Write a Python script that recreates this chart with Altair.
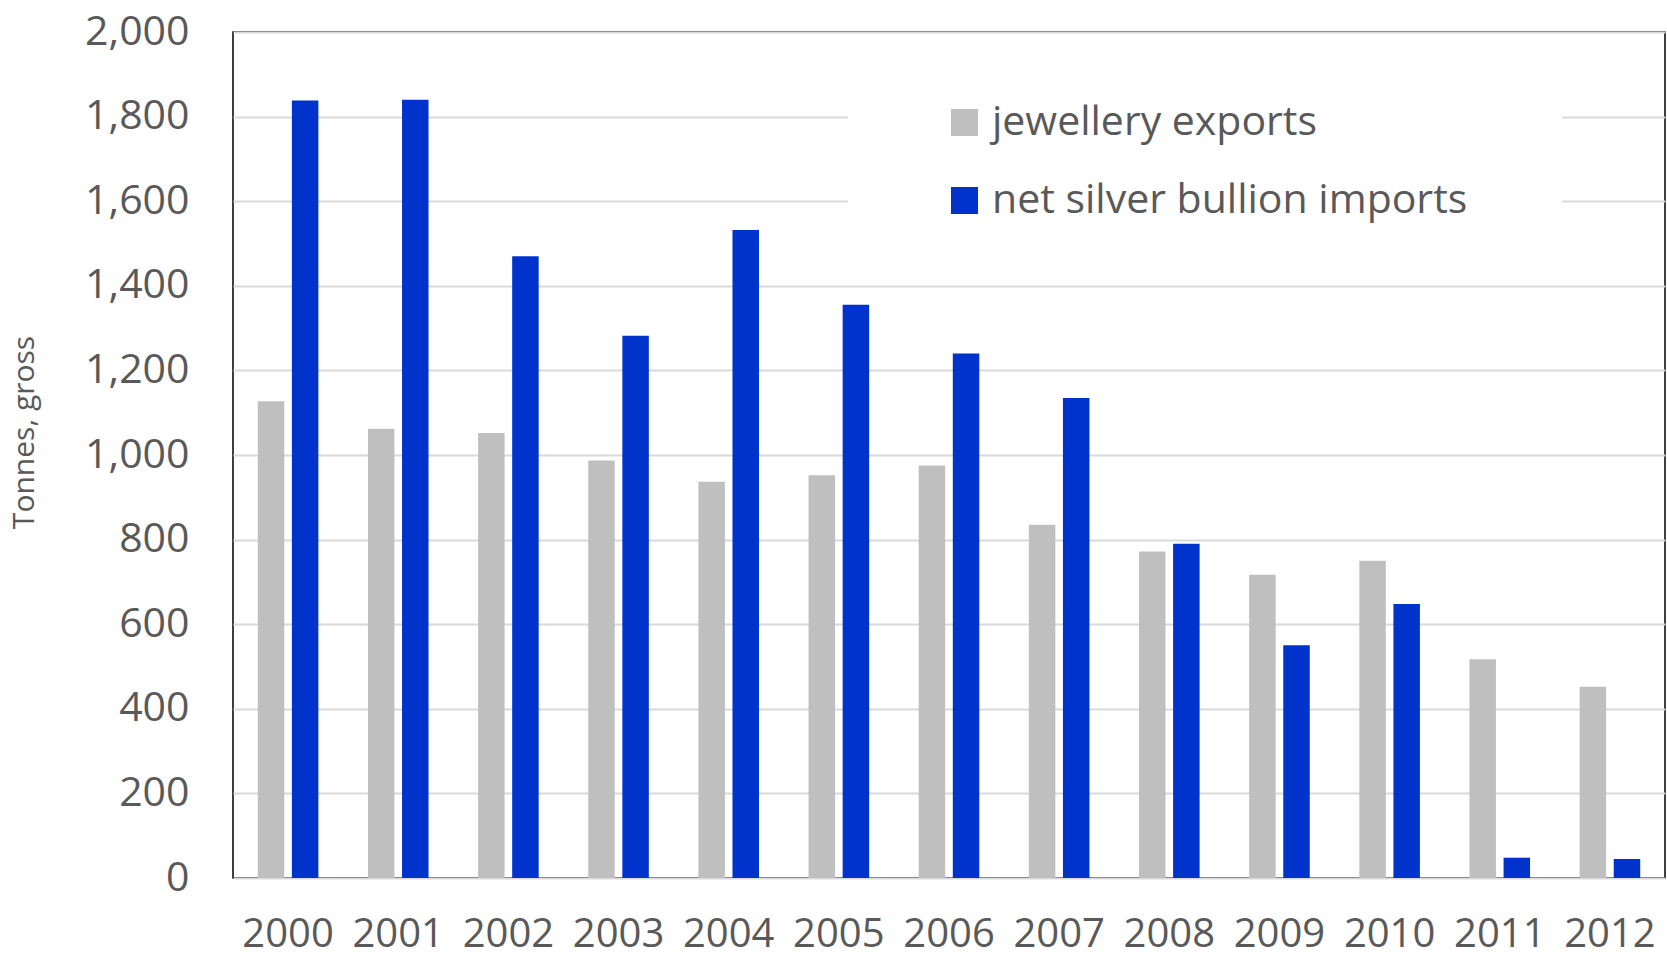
import altair as alt
import pandas as pd

years = [str(y) for y in range(2000, 2013)]
jewellery_exports = [1127, 1062, 1052, 987, 937, 952, 975, 835, 772, 717, 750, 517, 452]
net_bullion_imports = [1838, 1840, 1470, 1282, 1532, 1355, 1240, 1135, 790, 550, 648, 48, 45]
series_names = ["jewellery exports", "net silver bullion imports"]
series_colors = ["#bfbfbf", "#0033cc"]
y_ticks = list(range(0, 2001, 200))

rows = []
for i, yr in enumerate(years):
    rows.append({"year": yr, "series": series_names[0], "value": jewellery_exports[i]})
    rows.append({"year": yr, "series": series_names[1], "value": net_bullion_imports[i]})
df = pd.DataFrame(rows)

FONT = "Open Sans"
TXT = "#595959"

chart = alt.Chart(df).mark_bar(opacity=1).encode(
    x=alt.X(
        "year:N",
        sort=years,
        scale=alt.Scale(paddingInner=0.45, paddingOuter=0.225),
        axis=alt.Axis(
            title=None, labelAngle=0, ticks=False, domain=False, grid=False,
            labelFont=FONT, labelFontSize=40, labelColor=TXT, labelPadding=36,
        ),
    ),
    xOffset=alt.XOffset(
        "series:N", sort=series_names,
        scale=alt.Scale(paddingInner=0.223, paddingOuter=0),
    ),
    y=alt.Y(
        "value:Q",
        scale=alt.Scale(domain=[0, 2000], nice=False),
        axis=alt.Axis(
            title="Tonnes, gross", values=y_ticks, format=",d",
            ticks=False, domain=False, grid=True,
            gridColor="#d9d9d9", gridWidth=2,
            labelFont=FONT, labelFontSize=41, labelColor=TXT, labelPadding=44,
            titleFont=FONT, titleFontSize=30, titleColor=TXT, titleFontWeight="normal",
            titleX=-194, titleY=400,
        ),
    ),
    color=alt.Color(
        "series:N",
        scale=alt.Scale(domain=series_names, range=series_colors),
        legend=alt.Legend(
            title="\u00a0", titleOrient="right", titlePadding=45, titleFontSize=10,
            orient="none", legendX=615, legendY=20,
            fillColor="white", padding=50,
            symbolType="square", symbolSize=729, symbolStrokeWidth=0,
            symbolOffset=46, labelOffset=7, symbolOpacity=1,
            labelFont=FONT, labelFontSize=41, labelColor=TXT,
            labelLimit=1000, rowPadding=36,
        ),
    ),
).properties(
    width=1432,
    height=846,
    autosize=alt.AutoSizeParams(type="none"),
    padding={"left": 233, "top": 32, "right": 2, "bottom": 81},
).configure_view(
    stroke="black", strokeWidth=1.5
)

chart.save("out.html", embed_options={"renderer": "svg", "actions": False})
